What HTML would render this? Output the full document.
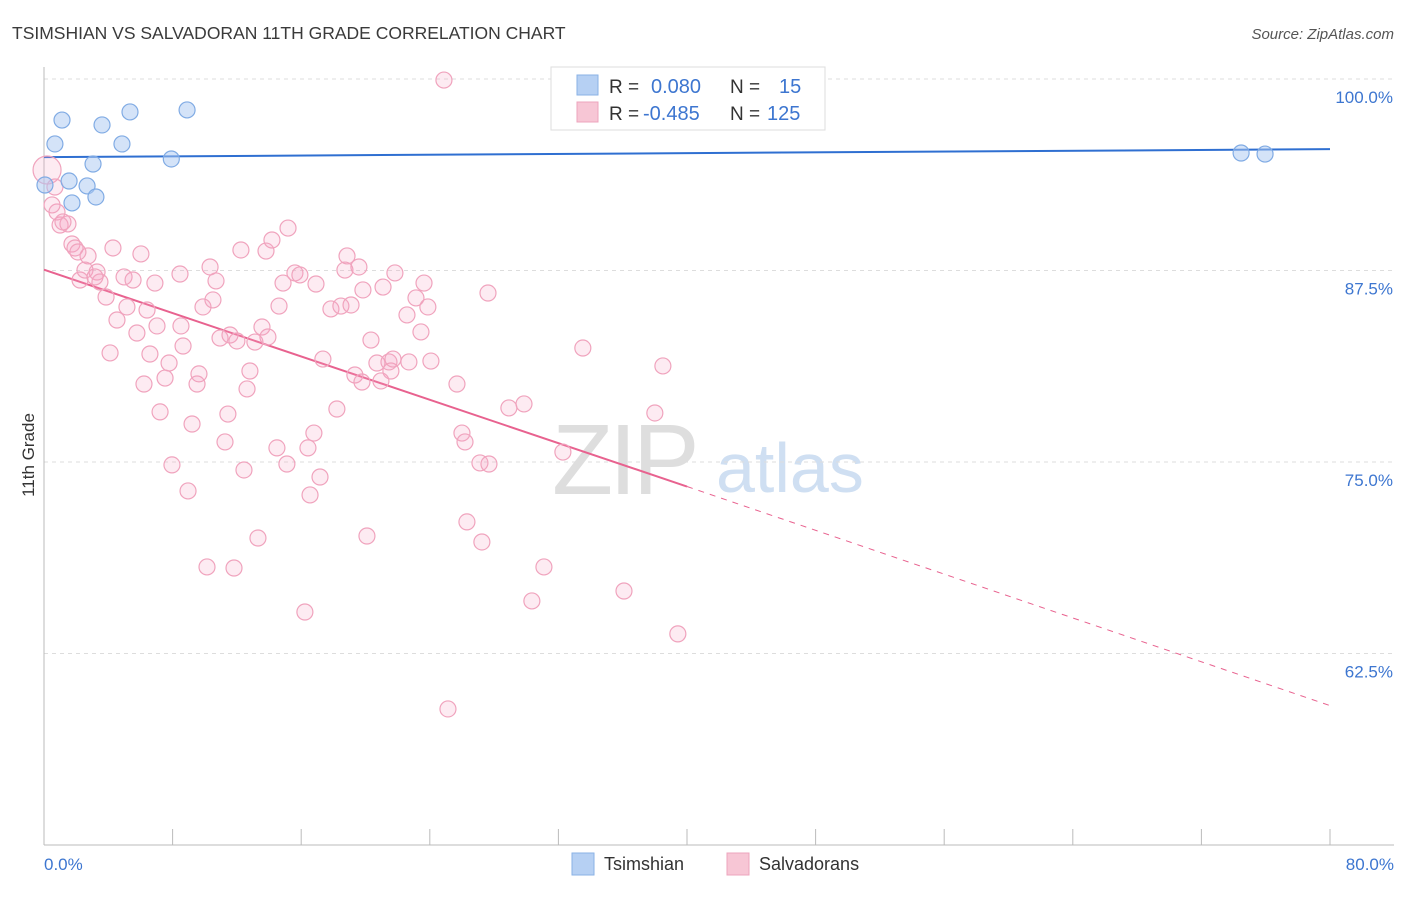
<!DOCTYPE html>
<html><head><meta charset="utf-8"><style>
body{margin:0;background:#fff;font-family:"Liberation Sans",sans-serif;}
svg text{font-family:"Liberation Sans",sans-serif;}
</style></head><body>
<svg id="c" width="1406" height="892" xmlns="http://www.w3.org/2000/svg">
<text x="12" y="39" font-size="17.5" fill="#3a3a3a">TSIMSHIAN VS SALVADORAN 11TH GRADE CORRELATION CHART</text>
<text x="1394" y="39" font-size="15" fill="#555" font-style="italic" text-anchor="end">Source: ZipAtlas.com</text>
<g>
<text x="552" y="494" font-size="100" fill="#dedede" font-family="Liberation Serif" letter-spacing="-4">ZIP</text>
<text x="716" y="492" font-size="70" fill="#cfdff2">atlas</text>
</g>
<g id="grid"></g><g id="axes"></g><g id="lines"></g><g id="pts"></g>
<text transform="translate(34,455) rotate(-90)" font-size="17" fill="#333" text-anchor="middle">11th Grade</text>
<g>
<rect x="551" y="67" width="274" height="63" fill="#fff" stroke="#ddd"/>
<rect x="577" y="75" width="21" height="20" fill="#b6d0f3" stroke="#8ab2e6"/>
<rect x="577" y="102" width="21" height="20" fill="#f7c6d5" stroke="#eea4bd"/>
<text x="609" y="93" font-size="19" fill="#333">R =</text>
<text x="651" y="93" font-size="20" fill="#3d76d0">0.080</text>
<text x="730" y="93" font-size="19" fill="#333">N =</text>
<text x="779" y="93" font-size="20" fill="#3d76d0">15</text>
<text x="609" y="120" font-size="19" fill="#333">R =</text>
<text x="643" y="120" font-size="20" fill="#3d76d0">-0.485</text>
<text x="730" y="120" font-size="19" fill="#333">N =</text>
<text x="767" y="120" font-size="20" fill="#3d76d0">125</text>
</g>
<g>
<rect x="572" y="853" width="22" height="22" fill="#b6d0f3" stroke="#8ab2e6"/>
<text x="604" y="870" font-size="18" fill="#333">Tsimshian</text>
<rect x="727" y="853" width="22" height="22" fill="#f7c6d5" stroke="#eea4bd"/>
<text x="759" y="870" font-size="18" fill="#333">Salvadorans</text>
</g>
</svg>
<script>
const yTicks=[100,87.5,75,62.5];
const yTickLabels=["100.0%","87.5%","75.0%","62.5%"];
const xTickVals=[0,8,16,24,32,40,48,56,64,72,80];
const blueX=[0.68,1.12,3.61,5.35,8.90,4.85,3.05,7.92,0.06,1.56,2.68,1.74,3.23,74.47,75.96];
const blueY=[95.76,97.32,97.0,97.85,97.98,95.76,94.45,94.78,93.08,93.34,93.02,91.91,92.30,95.17,95.10];
const pinkX=[24.88,0.19,0.68,0.81,1.0,1.49,1.74,1.93,2.74,2.24,2.55,3.30,3.48,3.86,4.29,4.54,4.11,4.98,5.16,5.54,5.78,6.03,6.41,6.59,6.22,6.90,7.03,7.22,7.53,7.78,7.96,8.46,8.52,8.65,8.96,9.21,9.52,9.64,9.89,10.14,10.33,10.51,10.70,10.95,11.26,11.44,11.57,11.82,12.00,12.25,12.44,12.63,12.81,13.12,13.31,13.56,13.81,13.93,14.18,14.49,14.62,14.87,15.18,15.11,15.61,15.92,16.23,16.42,16.55,16.79,16.92,17.17,17.35,17.85,18.22,18.47,18.72,18.85,19.10,19.34,19.59,19.78,19.84,20.09,20.34,20.71,20.96,21.09,21.46,21.58,21.71,21.83,22.58,22.70,23.14,23.45,23.64,23.88,24.07,25.13,25.69,26.00,26.19,26.31,27.12,27.24,27.68,27.62,28.92,29.86,30.35,31.10,32.28,33.52,36.08,38.00,38.50,39.43,0.50,1.18,2.11,3.17];
const pinkY=[99.93,94.06,92.95,91.32,90.47,90.54,89.23,88.97,88.45,86.88,87.53,87.40,86.75,85.77,88.97,84.27,82.12,87.08,85.12,86.88,83.42,88.58,84.92,82.05,80.09,86.68,83.88,78.27,80.48,81.46,74.81,87.27,83.88,82.57,73.11,77.48,80.09,80.75,85.12,68.15,87.73,85.58,86.82,83.09,76.31,78.13,83.29,68.08,82.90,88.84,74.48,79.77,80.94,82.83,70.04,83.81,88.77,83.16,89.49,75.92,85.18,86.68,90.27,74.87,87.34,87.21,65.21,75.92,72.85,76.89,86.62,74.02,81.72,84.99,78.46,85.18,87.53,88.45,85.25,80.68,87.73,80.22,86.23,70.17,82.96,81.46,80.29,86.42,81.53,80.94,81.72,87.34,84.60,81.53,85.71,83.49,86.68,85.12,81.59,58.88,80.09,76.89,76.31,71.09,74.94,69.78,74.87,86.03,78.53,78.79,65.93,68.15,75.65,82.44,66.58,78.20,81.27,63.78,91.78,90.67,88.71,87.08];
const blueFit=[[0,94.9],[80,95.42]];
const pinkFit=[[0,87.55],[40,73.4],[80,59.1]];
const NS="http://www.w3.org/2000/svg";
const X=v=>44+v/80*1286, Y=v=>79+(100-v)*15.32;
function mk(t,a,p){const e=document.createElementNS(NS,t);for(const k in a)e.setAttribute(k,a[k]);p.appendChild(e);return e;}
const grid=document.getElementById('grid'),axes=document.getElementById('axes'),lines=document.getElementById('lines'),pts=document.getElementById('pts');
yTicks.forEach((t,i)=>{
 const l=mk('line',{x1:44,x2:1394,y1:Y(t),y2:Y(t),stroke:'#ddd','stroke-dasharray':'4,4'},grid);
 
 
 const tx=mk('text',{x:1393,y:Y(t)+24,'font-size':17,fill:'#3d76d0','text-anchor':'end'},axes);
 tx.textContent=yTickLabels[i];
 
 
});
const ya=mk('line',{x1:44,x2:44,y1:67,y2:845,stroke:'#bbb'},axes);


const xa=mk('line',{x1:44,x2:1394,y1:845,y2:845,stroke:'#bbb'},axes);


xTickVals.forEach(v=>{
 const t=mk('line',{x1:X(v),x2:X(v),y1:829,y2:845,stroke:'#bbb'},axes);
 
 
});
[[0,'0.0%','start',44],[80,'80.0%','end',1394]].forEach(d=>{
 const t=mk('text',{x:d[3],y:870,'font-size':17,fill:'#3d76d0','text-anchor':d[2]},axes);
 t.textContent=d[1];
 
 
});
const bl=mk('line',{x1:X(blueFit[0][0]),y1:Y(blueFit[0][1]),x2:X(blueFit[1][0]),y2:Y(blueFit[1][1]),stroke:'#2f6fd1','stroke-width':2},lines);


const pl=mk('line',{x1:X(pinkFit[0][0]),y1:Y(pinkFit[0][1]),x2:X(pinkFit[1][0]),y2:Y(pinkFit[1][1]),stroke:'#e8628f','stroke-width':2},lines);


const pd=mk('line',{x1:X(pinkFit[1][0]),y1:Y(pinkFit[1][1]),x2:X(pinkFit[2][0]),y2:Y(pinkFit[2][1]),stroke:'#e8628f','stroke-width':1,'stroke-dasharray':'6,6'},lines);


pinkX.forEach((x,i)=>{
 const c=mk('circle',{cx:X(x),cy:Y(pinkY[i]),r:i===1?14:8,fill:'rgba(244,165,195,0.22)',stroke:'#f0a3bd','stroke-width':1.2},pts);
 
 
});
blueX.forEach((x,i)=>{
 const c=mk('circle',{cx:X(x),cy:Y(blueY[i]),r:8,fill:'rgba(170,200,242,0.5)',stroke:'#80abe4','stroke-width':1.2},pts);
 
 
});
</script>
</body></html>
